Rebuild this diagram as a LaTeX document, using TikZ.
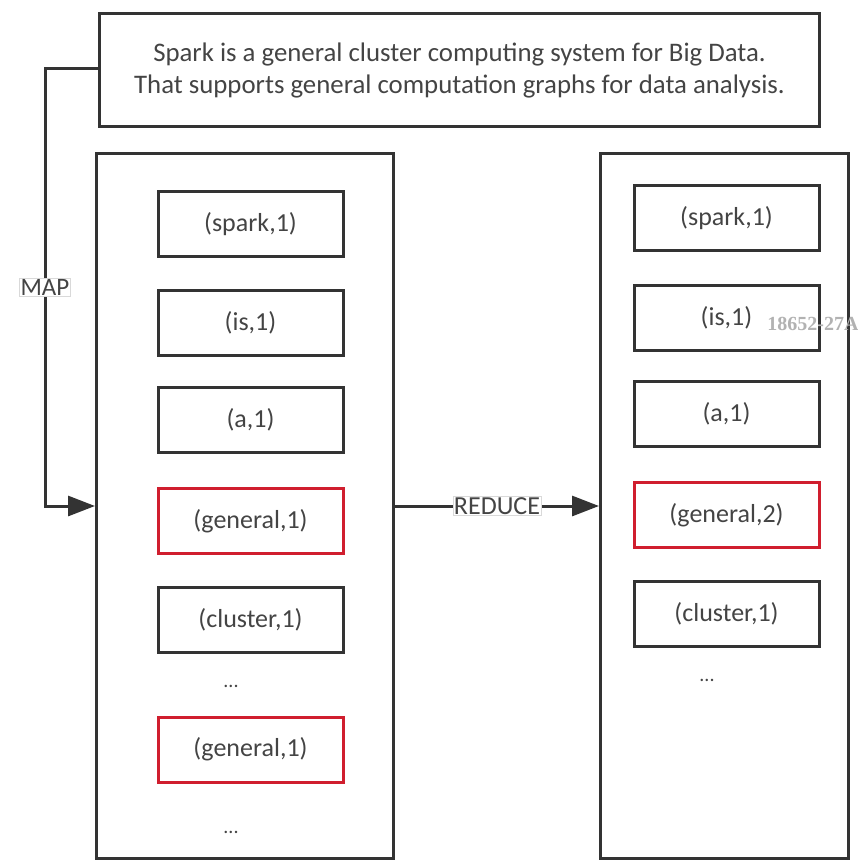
\documentclass[tikz,border=0pt]{standalone}
\usepackage{fontspec}
\setmainfont{Carlito}
\newfontfamily\wmfont{Liberation Serif}
\usetikzlibrary{arrows.meta}
\definecolor{lineg}{HTML}{333333}
\definecolor{textg}{HTML}{444444}
\definecolor{redb}{HTML}{D01E2E}
\tikzset{
  kv/.style={draw=lineg, line width=3pt, minimum width=185pt, minimum height=65pt, inner sep=0pt, text=textg, font=\fontsize{26}{30}\selectfont},
  kvred/.style={kv, draw=redb},
  bigbox/.style={draw=lineg, line width=3pt, inner sep=0pt},
  conn/.style={draw=lineg, line width=3pt, -{Triangle[length=27pt,width=20pt]}},
  lbl/.style={draw=black!15, line width=0.8pt, fill=white, text=textg, inner sep=1pt, font=\fontsize{25}{28}\selectfont},
  dots/.style={text=textg, font=\fontsize{20}{22}\selectfont},
}
\begin{document}
\begin{tikzpicture}[x=1pt,y=-1pt]
\useasboundingbox (0,0) rectangle (858,862);
% top box
\node[bigbox, minimum width=720pt, minimum height=113pt, anchor=north west, align=center, text=textg, font=\fontsize{26.8}{32}\selectfont] (top) at (98,12)
  {Spark is a general cluster computing system for Big Data.\\That supports general computation graphs for data analysis.};
% big boxes
\node[bigbox, minimum width=297pt, minimum height=705pt, anchor=north west] (L) at (95,152) {};
\node[bigbox, minimum width=248pt, minimum height=705pt, anchor=north west] (R) at (599,152) {};
% left inner
\node[kv] (l1) at (250.5,224) {(spark,1)};
\node[kv] (l2) at (250.5,322.5) {(is,1)};
\node[kv] (l3) at (250.5,419.5) {(a,1)};
\node[kvred] (l4) at (250.5,521) {(general,1)};
\node[kv] (l5) at (250.5,619.5) {(cluster,1)};
\node[dots] (l6) at (231,686) {...};
\node[kvred] (l7) at (250.5,749.5) {(general,1)};
\node[dots] (l8) at (231,832) {...};
% right inner
\node[kv] (r1) at (726.5,218) {(spark,1)};
\node[kv] (r2) at (726.5,317.5) {(is,1)};
\node[kv] (r3) at (726.5,413.5) {(a,1)};
\node[kvred] (r4) at (726.5,515) {(general,2)};
\node[kv] (r5) at (726.5,613.5) {(cluster,1)};
\node[dots] (r6) at (707,680) {...};
% watermark
\node[text=black!30, font=\wmfont\bfseries\fontsize{20}{22}\selectfont, inner sep=0pt] (wm) at (813,324) {18652-27A};
% connectors
\coordinate (mapc) at (45,68);
\coordinate (mapd) at (45,506);
\draw[conn] (top.west |- mapc) -- (mapc) -- (mapd) -- (L.west |- mapd);
\node[lbl] (map) at (45,287) {MAP};
\draw[conn] (L.east |- mapd) -- (R.west |- mapd) node[lbl, pos=0.5, font=\fontsize{26}{28}\selectfont] (red) {REDUCE};
\end{tikzpicture}
\end{document}
